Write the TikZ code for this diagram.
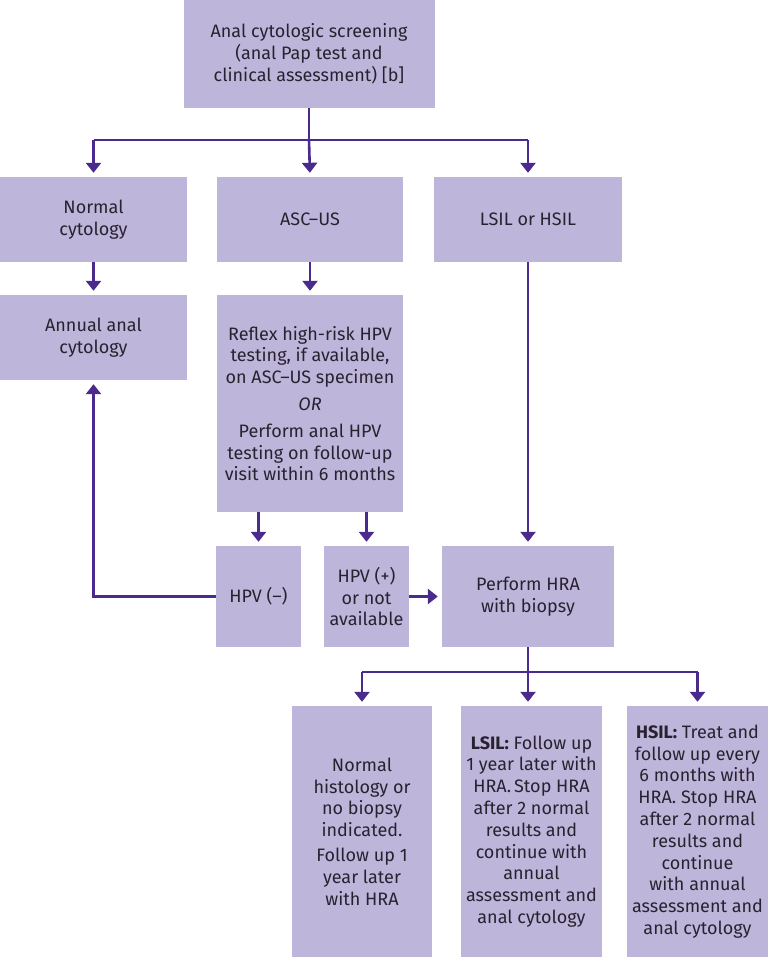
\documentclass[tikz,border=0pt]{standalone}
\usepackage{fontspec}
\setmainfont{Fira Sans}
\usetikzlibrary{arrows.meta}
\definecolor{boxfill}{RGB}{190,182,218}
\definecolor{linkpurple}{RGB}{74,42,140}
\definecolor{inkdark}{RGB}{40,34,48}
\tikzset{
  box/.style={fill=boxfill, text=inkdark, align=center, inner sep=0pt,
    font=\fontsize{18}{21.8}\selectfont},
  link/.style={draw=linkpurple, line width=2.6pt},
  linkarrow/.style={link, -{Triangle[width=15pt,length=10pt]}, shorten >=4pt}
}
\begin{document}
\begin{tikzpicture}[x=1pt,y=-1pt]
  \useasboundingbox (0,0) rectangle (768,957);
  % screening and first split
  \node[box, minimum width=251pt, minimum height=108pt] (screen) at (309,54)
    {Anal cytologic screening\\(anal Pap test and\\clinical assessment) [b]};
  \node[box, minimum width=187pt, minimum height=85pt] (normal) at (93.5,219.5)
    {Normal\\cytology};
  \node[box, minimum width=186pt, minimum height=85pt] (ascus) at (310,219.5)
    {ASC–US};
  \node[box, minimum width=188pt, minimum height=85pt] (lsilhsil) at (528,219.5)
    {LSIL or HSIL};
  % second row
  \node[box, minimum width=187pt, minimum height=85pt] (annual) at (93.5,337.5)
    {Annual anal\\cytology};
  \node[box, minimum width=186pt, minimum height=217pt] (reflex) at (310,403.5)
    {Reflex high-risk HPV\\testing, if available,\\on ASC–US specimen\\[5pt]
     \textit{OR}\\[5pt]
     Perform anal HPV\\testing on follow-up\\visit within 6 months};
  % HPV results
  \node[box, minimum width=85pt, minimum height=101pt] (hpvneg) at (258.5,596.5)
    {HPV (–)};
  \node[box, minimum width=85pt, minimum height=101pt] (hpvpos) at (366.5,596.5)
    {HPV (+)\\or not\\available};
  \node[box, minimum width=172pt, minimum height=101pt] (hra) at (528,596.5)
    {Perform HRA\\with biopsy};
  % outcomes of HRA
  \node[box, minimum width=140pt, minimum height=251pt] (normhist) at (362,831.5)
    {Normal\\histology or\\no biopsy\\indicated.\\[3pt]
     Follow up 1\\year later\\with HRA};
  \node[box, minimum width=141pt, minimum height=251pt] (lsilres) at (531.5,831.5)
    {\textbf{LSIL:} Follow up\\1 year later with\\HRA.\,Stop HRA\\after 2 normal\\results and\\continue with\\annual\\assessment and\\anal cytology};
  \node[box, minimum width=141pt, minimum height=251pt] (hsilres) at (697.5,831.5)
    {\textbf{HSIL:} Treat and\\follow up every\\6 months with\\HRA. Stop HRA\\after 2 normal\\results and\\continue\\with annual\\assessment and\\anal cytology};

  % connectors
  \coordinate (fork) at (309,140);
  \coordinate (forklow) at (528,672);
  \draw[link] (screen.south) -- (fork);
  \draw[link] (normal.north |- fork) -- (lsilhsil.north |- fork);
  \draw[linkarrow] (normal.north |- fork) -- (normal.north);
  \draw[linkarrow] (fork) -- (ascus.north);
  \draw[linkarrow] (lsilhsil.north |- fork) -- (lsilhsil.north);
  \draw[linkarrow] (normal) -- (annual);
  \draw[linkarrow] (ascus) -- (reflex);
  \draw[linkarrow] (hpvneg.north |- reflex.south) -- (hpvneg.north);
  \draw[linkarrow] (hpvpos.north |- reflex.south) -- (hpvpos.north);
  \draw[linkarrow] (hpvpos) -- (hra);
  \draw[linkarrow] (hpvneg.west) -| (annual.south);
  \draw[linkarrow] (lsilhsil.south) -- (lsilhsil.south |- hra.north);
  \draw[link] (hra.south) -- (forklow);
  \draw[link] (normhist.north |- forklow) -- (hsilres.north |- forklow);
  \draw[linkarrow] (normhist.north |- forklow) -- (normhist.north);
  \draw[linkarrow] (forklow) -- (forklow |- lsilres.north);
  \draw[linkarrow] (hsilres.north |- forklow) -- (hsilres.north);
\end{tikzpicture}
\end{document}
